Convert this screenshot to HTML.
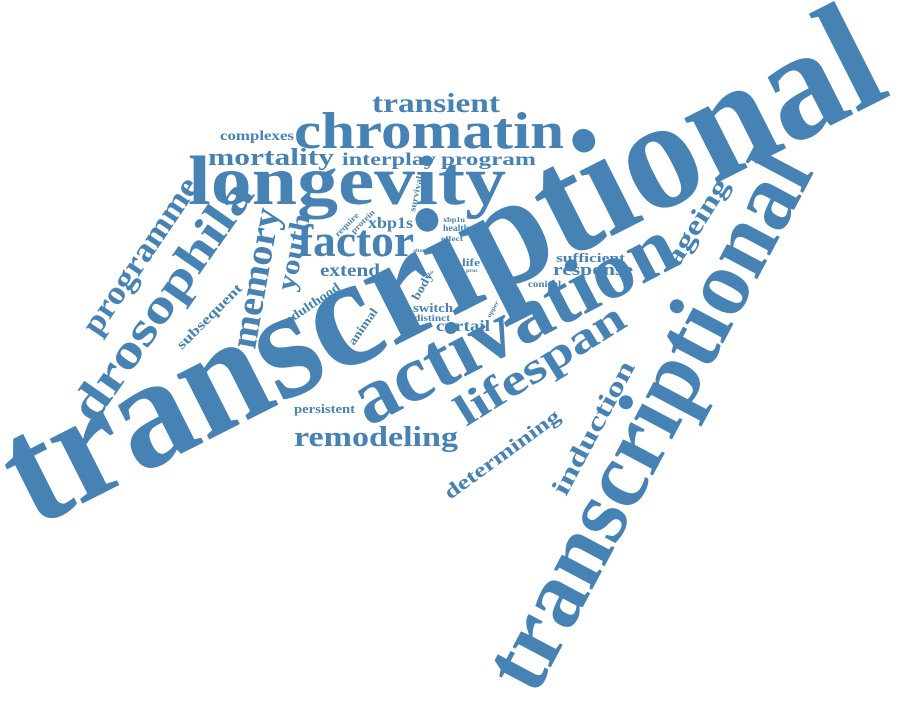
<!DOCTYPE html>
<html><head><meta charset="utf-8"><style>
html,body{margin:0;padding:0;background:#fff;width:900px;height:702px;overflow:hidden}
svg text{font-family:"Liberation Serif",serif;font-weight:bold;fill:#4682b4}
</style></head><body>
<svg width="900" height="702" viewBox="0 0 900 702">
<g id="cloud"></g>
</svg>
<script>
const words = ["transcriptional","transcriptional","activation","longevity","chromatin","transient","factor","mortality","interplay","program","complexes","programme","drosophila","memory","youth","extend","lifespan","remodeling","persistent","determining","induction","ageing","response","sufficient","conical","subsequent","adulthood","animal","switch","distinct","curtail","body","xbp1s","require","protein","survival","xbp1u","health","effect","alter","life","proc","role","upper"];
// layout: x, y (baseline start), angle, font size, length
const layout = [
[34,528,-26.8,158,962],[535,697,-62,94,595],[368,427,-27.5,80,355],[188,204,0,70,318],[294,148,0,52,270],[372,112,0,27,128],[298,256,0,46,116],[208,165,0,24,126],[342,165,0,18,94],[441,165,0,18,95],[220,140,0,14,74],[98,337,-56,33,182],[94,425,-55,48,282],[255,350,-80,38,142],[294,292,-78,27,78],[320,276,0,18,60],[466,427,-32,44,192],[294,446,0,28,164],[294,413,0,13,61],[450,500,-36,20,138],[566,497,-62,26,148],[678,268,-58,27,98],[553,275,0,17,80],[556,262,0,13,69],[528,287,0,9,33],[182,350,-45,14,86],[288,325,-34,13,64],[354,346,-55,12,42],[413,312,0,13,40],[414,321,0,9,36],[436,331,0,16,54],[418,301,-60,12,30],[368,228,0,16,45],[338,237,-45,8,30],[354,234,-45,8,30],[415,212,-78,9,36],[443,222,0,7,22],[443,231,0,9,26],[441,241,0,7,22],[413,252,0,5,12],[462,266,0,11,18],[466,272,0,5,12],[428,277,-40,4,8],[490,318,-60,6,18]
];
const g = document.getElementById('cloud');
words.forEach((w,i)=>{
  const [x,y,a,s,len] = layout[i];
  const t = document.createElementNS('http://www.w3.org/2000/svg','text');
  t.setAttribute('x',x); t.setAttribute('y',y);
  t.setAttribute('font-size',s);
  t.setAttribute('textLength',len);
  t.setAttribute('lengthAdjust','spacingAndGlyphs');
  t.setAttribute('transform',`rotate(${a} ${x} ${y})`);
  
  
  t.textContent = w;
  g.appendChild(t);
});
</script>
</body></html>
